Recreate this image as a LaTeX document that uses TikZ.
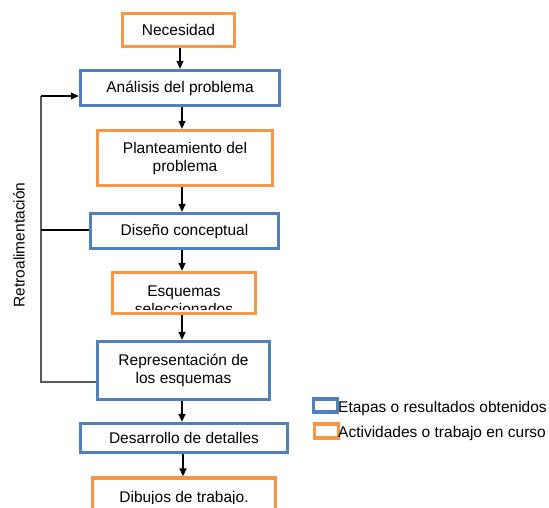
\documentclass[tikz,border=0pt]{standalone}
\usepackage{fontspec}
\setmainfont{Liberation Sans}
\usetikzlibrary{arrows.meta}
\definecolor{boxblue}{HTML}{4F81BD}
\definecolor{boxorange}{HTML}{F79646}
\definecolor{fbgrey}{HTML}{5A5A5A}
\tikzset{
  basebox/.style={rectangle, line width=3.3pt, fill=white, align=center,
    font=\fontsize{15.5}{18}\selectfont, inner sep=0pt},
  bluebox/.style={basebox, draw=boxblue},
  orangebox/.style={basebox, draw=boxorange},
  flow/.style={-{Triangle[length=8pt,width=7pt]}, line width=1.3pt, black},
  fbline/.style={line width=1.4pt, fbgrey},
  fbtie/.style={line width=1.1pt, black},
  lbl/.style={font=\fontsize{15.5}{18}\selectfont, inner sep=0pt},
}
\begin{document}
\begin{tikzpicture}[x=1pt,y=-1pt]
\useasboundingbox (0,0) rectangle (549,508);
\clip (0,0) rectangle (549,508);
% main boxes
\node[orangebox, minimum width=112pt, minimum height=33pt] (nec) at (178.5,30) {Necesidad};
\node[bluebox, minimum width=199pt, minimum height=35pt] (ana) at (180,88) {Análisis del problema};
\node[orangebox, minimum width=175pt, minimum height=55pt] (pla) at (185,158) {Planteamiento del\\problema};
\node[bluebox, minimum width=188pt, minimum height=35pt] (dis) at (184.5,231) {Diseño conceptual};
\node[orangebox, minimum width=143pt, minimum height=41pt] (esq) at (184,293) {};
\begin{scope}
  \clip (113,273) rectangle (255,309);
  \node[lbl, anchor=base] (esqa) at (184,296) {Esquemas};
  \node[lbl, anchor=base] (esqb) at (184,314) {seleccionados};
\end{scope}
\node[bluebox, minimum width=172pt, minimum height=58pt] (rep) at (183.5,370.5) {Representación de\\los esquemas};
\node[bluebox, minimum width=207pt, minimum height=29pt] (des) at (184,438) {Desarrollo de detalles};
\node[orangebox, minimum width=183pt, minimum height=36pt] (dib) at (184,496) {};
\begin{scope}
  \clip (93,479) rectangle (275,503);
  \node[lbl, anchor=base] (dibt) at (184,502) {Dibujos de trabajo.};
\end{scope}
% flow arrows
\draw[flow] (nec.south -| 180,0) -- (ana.north -| 180,0);
\draw[flow] (ana.south -| 182,0) -- (pla.north -| 182,0);
\draw[flow] (pla.south -| 182,0) -- (dis.north -| 182,0);
\draw[flow] (dis.south -| 182,0) -- (esq.north -| 182,0);
\draw[flow] (esq.south -| 182,0) -- (rep.north -| 182,0);
\draw[flow] (rep.south -| 182,0) -- (des.north -| 182,0);
\draw[flow] (des.south -| 183,0) -- (dib.north -| 183,0);
% feedback loop
\coordinate (fbtop) at (41,96);
\coordinate (fbmid) at (41,230);
\coordinate (fbbot) at (41,382);
\draw[fbline] (rep.west |- fbbot) -- (fbbot) -- (fbtop);
\draw[flow] (fbtop) -- (ana.west |- fbtop);
\draw[fbtie] (fbmid) -- (dis.west |- fbmid);
\node[rotate=90, font=\fontsize{15.5}{18}\selectfont, inner sep=0pt] (retro) at (19,245) {Retroalimentación};
% legend
\node[rectangle, draw=boxblue, line width=3.3pt, minimum width=24pt, minimum height=13pt, inner sep=0pt] (legb) at (325.5,405.5) {};
\node[rectangle, draw=boxorange, line width=3.3pt, minimum width=24pt, minimum height=14pt, inner sep=0pt] (lego) at (326.5,431) {};
\node[lbl, anchor=base west] (legbt) at (338,412) {Etapas o resultados obtenidos};
\node[lbl, anchor=base west] (legot) at (338,437) {Actividades o trabajo en curso};
\end{tikzpicture}
\end{document}
